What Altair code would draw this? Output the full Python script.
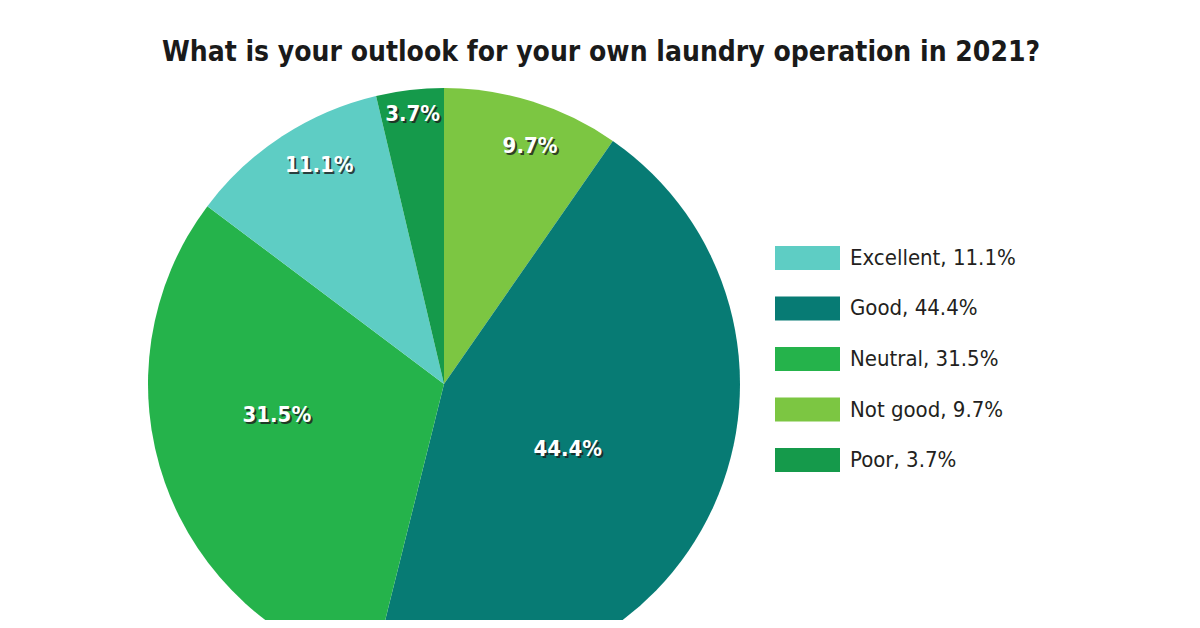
import altair as alt
import pandas as pd

# ---- data ----
categories = ["Not good", "Good", "Neutral", "Excellent", "Poor"]
values = [9.7, 44.4, 31.5, 11.1, 3.7]
legend_order = ["Excellent", "Good", "Neutral", "Not good", "Poor"]
colors = ["#7cc642", "#077b74", "#25b34b", "#5ecdc4", "#159a4b"]
title_text = "What is your outlook for your own laundry operation in 2021?"

df = pd.DataFrame({
    "cat": categories,
    "value": values,
    "order": list(range(len(categories))),
})
df["pct"] = df["value"].map(lambda v: f"{v}%")
df["legend"] = df.apply(lambda r: f"{r['cat']}, {r['value']}%", axis=1)

W, H = 1184, 612
CX, CY, R = 436, 376, 296
FONT = "'Liberation Sans Narrow', 'DejaVu Sans Condensed', 'Arial Narrow', sans-serif"

color_scale = alt.Scale(domain=categories, range=colors)

base = alt.Chart(df)

pie = base.mark_arc(clip=True).encode(
    theta=alt.Theta("value:Q", stack=True),
    order=alt.Order("order:Q"),
    color=alt.Color("cat:N", scale=color_scale, legend=None),
    x=alt.value(CX),
    y=alt.value(CY),
    radius=alt.value(R),
)

# label placement: radial distance and small angular nudge (degrees)
label_r_expr = ("datum.cat=='Poor'?272:datum.cat=='Not good'?253:"
                "datum.cat=='Excellent'?252:datum.cat=='Neutral'?170:140")
label_da_expr = ("datum.cat=='Neutral'?9:datum.cat=='Not good'?2.5:"
                 "datum.cat=='Excellent'?3.5:datum.cat=='Good'?3.5:0")

labels_base = base.transform_window(
    cum="sum(value)", sort=[alt.SortField("order")],
    frame=[None, 0],
).transform_joinaggregate(
    total="sum(value)"
).transform_calculate(
    lr=label_r_expr,
    da=label_da_expr,
).transform_calculate(
    mid="(datum.cum - datum.value/2)/datum.total*2*PI + datum.da*PI/180",
).transform_calculate(
    lx=f"{CX} + datum.lr*sin(datum.mid)",
    ly=f"{CY} - datum.lr*cos(datum.mid)",
)

shadow = labels_base.mark_text(
    font=FONT, fontWeight="bold", fontSize=22,
    color="#1e1e1e", opacity=0.8, dx=2, dy=2,
).encode(
    x=alt.X("lx:Q", scale=None), y=alt.Y("ly:Q", scale=None),
    text="pct:N",
)
labels = labels_base.mark_text(
    font=FONT, fontWeight="bold", fontSize=22, color="white",
).encode(
    x=alt.X("lx:Q", scale=None), y=alt.Y("ly:Q", scale=None),
    text="pct:N",
)

leg_y = alt.Y("cat:N", sort=legend_order, axis=None,
              scale=alt.Scale(domain=legend_order, range=[238, 464],
                              paddingInner=0.525, paddingOuter=0))

leg_rect = base.mark_rect().encode(
    x=alt.value(767), x2=alt.value(832),
    y=leg_y,
    color=alt.Color("cat:N", scale=color_scale, legend=None),
)
leg_text = base.mark_text(
    align="left", baseline="middle", font=FONT,
    fontSize=22, color="#231f20",
).encode(
    x=alt.value(842),
    y=leg_y,
    text="legend:N",
)

title = alt.Chart(pd.DataFrame({"t": [title_text]})).mark_text(
    font=FONT, fontWeight="bold", fontSize=28,
    color="#1a1a1a", align="center", baseline="alphabetic",
).encode(x=alt.value(593), y=alt.value(53), text="t:N")

chart = alt.layer(pie, shadow, labels, leg_rect, leg_text, title).properties(
    width=W, height=H,
    autosize=alt.AutoSizeParams(type="none"),
    padding=0,
).configure_view(stroke=None)

chart.save("out.html", embed_options={"renderer": "svg", "actions": False})
